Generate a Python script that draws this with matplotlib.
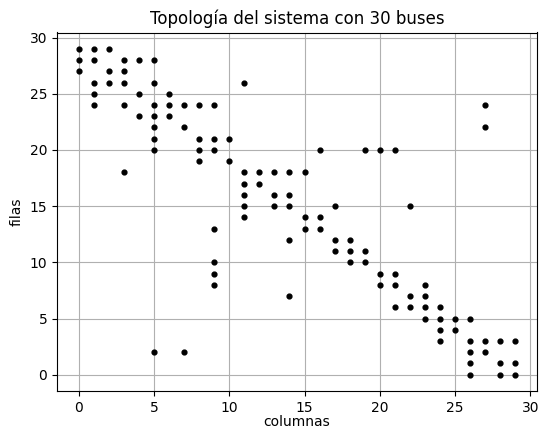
import matplotlib
matplotlib.use("Agg")
import matplotlib.pyplot as plt

# nonzero positions of the 30-bus matrix, read column by column
cols = [0, 0, 0,
        1, 1, 1, 1, 1,
        2, 2, 2,
        3, 3, 3, 3, 3,
        4, 4, 4,
        5, 5, 5, 5, 5, 5, 5, 5,
        6, 6, 6,
        7, 7, 7,
        8, 8, 8, 8,
        9, 9, 9, 9, 9, 9, 9,
        10, 10,
        11, 11, 11, 11, 11, 11,
        12, 12,
        13, 13, 13,
        14, 14, 14, 14, 14,
        15, 15, 15,
        16, 16, 16,
        17, 17, 17,
        18, 18, 18,
        19, 19, 19,
        20, 20, 20,
        21, 21, 21, 21,
        22, 22, 22,
        23, 23, 23, 23,
        24, 24, 24, 24,
        25, 25,
        26, 26, 26, 26, 26,
        27, 27, 27, 27,
        28, 28, 28,
        29, 29, 29]
rows = [29, 28, 27,
        29, 28, 26, 25, 24,
        29, 27, 26,
        28, 27, 26, 24, 18,
        28, 25, 23,
        28, 26, 24, 23, 22, 21, 20, 2,
        25, 24, 23,
        24, 22, 2,
        24, 21, 20, 19,
        24, 21, 20, 13, 10, 9, 8,
        21, 19,
        26, 18, 17, 16, 15, 14,
        18, 17,
        18, 16, 15,
        18, 16, 15, 12, 7,
        18, 14, 13,
        20, 14, 13,
        15, 12, 11,
        12, 11, 10,
        20, 11, 10,
        20, 9, 8,
        20, 9, 8, 6,
        15, 7, 6,
        8, 7, 6, 5,
        6, 5, 4, 3,
        5, 4,
        5, 3, 2, 1, 0,
        24, 22, 3, 2,
        3, 1, 0,
        3, 1, 0]

fig = plt.figure(figsize=(5.39, 4.28), dpi=100)
ax = fig.add_axes([57 / 539, 1 - 391 / 428, 480 / 539, 358.5 / 428])
ax.scatter(cols, rows, s=12, color='black', zorder=3)
ax.set_title('Topología del sistema con 30 buses')
ax.set_xlabel('columnas', labelpad=0.5)
ax.set_ylabel('filas')
ax.grid(True, color='#b0b0b0', linewidth=0.8)
ax.set_axisbelow(True)

fig.savefig('out.png', dpi=100)
